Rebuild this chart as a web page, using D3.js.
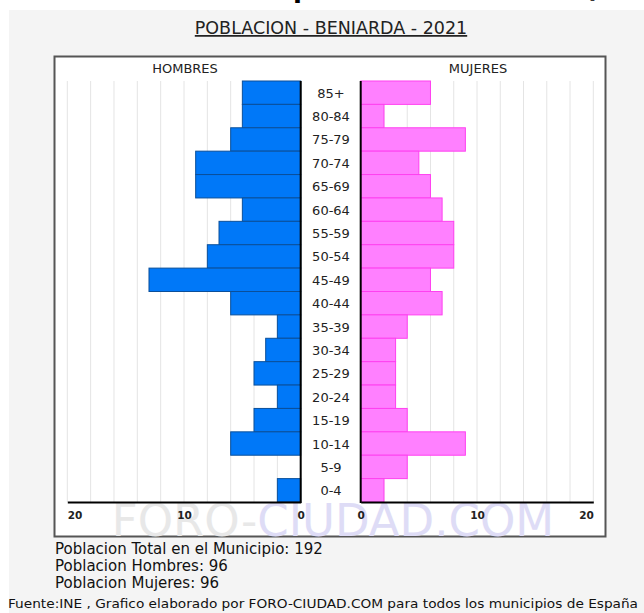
<!DOCTYPE html>
<html>
<head>
<meta charset="utf-8">
<script src="https://cdn.jsdelivr.net/npm/d3@7"></script>
<style>
  body { margin: 0; background: #fff; }
  svg { display: block; font-family: "DejaVu Sans", Verdana, sans-serif; }
</style>
</head>
<body>
<div id="chart"></div>
<script>
// age groups, top to bottom
var ageGroups = ["85+", "80-84", "75-79", "70-74", "65-69", "60-64", "55-59", "50-54", "45-49",
                 "40-44", "35-39", "30-34", "25-29", "20-24", "15-19", "10-14", "5-9", "0-4"];
var hombres = [5, 5, 6, 9, 9, 5, 7, 8, 13, 6, 2, 3, 4, 2, 4, 6, 0, 2];
var mujeres = [6, 2, 9, 5, 6, 7, 8, 8, 6, 7, 4, 3, 3, 3, 4, 9, 4, 2];
var axisTicks = [0, 10, 20];
var gridTicks = [2, 4, 6, 8, 10, 12, 14, 16, 18, 20];
var infoLines = ["Poblacion Total en el Municipio: 192", "Poblacion Hombres: 96", "Poblacion Mujeres: 96"];

var width = 644, height = 613;
var plotTop = 81, plotBottom = 502;

var svg = d3.select("#chart").append("svg")
    .attr("width", width)
    .attr("height", height);

// page background
svg.append("rect").attr("x", 9).attr("y", 10).attr("width", width - 9).attr("height", height - 10)
    .attr("fill", "#f4f4f4");

// heading cut off at the top
svg.append("text").attr("x", 108).attr("y", -3)
    .attr("font-size", 26).attr("font-weight", "bold").attr("fill", "#000")
    .text("Pirámide de población Beniarda (2021)");

svg.append("text").attr("x", 331).attr("y", 34)
    .attr("text-anchor", "middle").attr("font-size", 17.5).attr("fill", "#222")
    .attr("text-decoration", "underline")
    .text("POBLACION - BENIARDA - 2021");

// chart box
svg.append("rect").attr("x", 54.5).attr("y", 56.5).attr("width", 551).attr("height", 480)
    .attr("fill", "#fff").attr("stroke", "#555").attr("stroke-width", 2);

var xMen = d3.scaleLinear().domain([0, 20]).range([300.7, 67.3]);
var xWomen = d3.scaleLinear().domain([0, 20]).range([360.7, 593.3]);
var y = d3.scaleBand().domain(ageGroups).range([plotTop, plotBottom]).padding(0);

// grid lines
[xMen, xWomen].forEach(function(sc) {
  svg.append("g").selectAll("line").data(gridTicks).enter().append("line")
    .attr("x1", d => sc(d)).attr("x2", d => sc(d))
    .attr("y1", plotTop).attr("y2", plotBottom)
    .attr("stroke", "#e4e4e4").attr("stroke-width", 1);
});

svg.append("text").attr("x", 185).attr("y", 73).attr("text-anchor", "middle")
  .attr("font-size", 13).attr("fill", "#222").text("HOMBRES");
svg.append("text").attr("x", 478).attr("y", 73).attr("text-anchor", "middle")
  .attr("font-size", 13).attr("fill", "#222").text("MUJERES");

// watermark
var wm = svg.append("text").attr("x", 333).attr("y", 536).attr("text-anchor", "middle")
  .attr("font-size", 45).attr("font-family", "DejaVu Sans");
wm.append("tspan").attr("fill", "#e8e8e8").text("FORO-");
wm.append("tspan").attr("fill", "#dedcf6").text("CIUDAD.COM");

// bars
svg.append("g").selectAll("rect").data(ageGroups).enter().append("rect")
  .attr("x", (d, i) => xMen(hombres[i]))
  .attr("y", d => y(d))
  .attr("width", (d, i) => xMen(0) - xMen(hombres[i]))
  .attr("height", y.bandwidth())
  .attr("fill", "#0078f8").attr("stroke", "#0a4f9a").attr("stroke-width", 1);

svg.append("g").selectAll("rect").data(ageGroups).enter().append("rect")
  .attr("x", xWomen(0))
  .attr("y", d => y(d))
  .attr("width", (d, i) => xWomen(mujeres[i]) - xWomen(0))
  .attr("height", y.bandwidth())
  .attr("fill", "#ff80ff").attr("stroke", "#ff40f0").attr("stroke-width", 1);

// age labels
svg.append("g").selectAll("text").data(ageGroups).enter().append("text")
  .attr("x", 331).attr("y", d => y(d) + y.bandwidth() / 2 + 5)
  .attr("text-anchor", "middle").attr("font-size", 13).attr("fill", "#222")
  .text(d => d);

// axes
var menAxis = d3.axisBottom(xMen).tickValues(axisTicks).tickSize(0).tickPadding(10);
var womenAxis = d3.axisBottom(xWomen).tickValues(axisTicks).tickSize(0).tickPadding(10);
[[menAxis, "start"], [womenAxis, "end"]].forEach(function(pair) {
  var g = svg.append("g").attr("transform", "translate(0," + plotBottom + ")").call(pair[0]);
  g.select(".domain").attr("stroke", "#000").attr("stroke-width", 2);
  g.selectAll("text").attr("font-size", 10.5).attr("font-family", "DejaVu Sans")
    .attr("fill", "#222").attr("font-weight", "bold")
    .attr("text-anchor", d => d === 20 ? pair[1] : "middle");
});
svg.append("line").attr("x1", xMen(0)).attr("x2", xMen(0)).attr("y1", plotTop).attr("y2", plotBottom + 1)
  .attr("stroke", "#000").attr("stroke-width", 2);
svg.append("line").attr("x1", xWomen(0)).attr("x2", xWomen(0)).attr("y1", plotTop).attr("y2", plotBottom + 1)
  .attr("stroke", "#000").attr("stroke-width", 2);

// info lines
svg.append("g").selectAll("text").data(infoLines).enter().append("text")
  .attr("x", 55).attr("y", (d, i) => 554 + i * 17)
  .attr("font-size", 15).attr("fill", "#111").text(d => d);

svg.append("text").attr("x", 8).attr("y", 608)
  .attr("font-size", 13).attr("fill", "#111")
  .attr("textLength", 630).attr("lengthAdjust", "spacingAndGlyphs")
  .text("Fuente:INE , Grafico elaborado por FORO-CIUDAD.COM para todos los municipios de España");
</script>
</body>
</html>
